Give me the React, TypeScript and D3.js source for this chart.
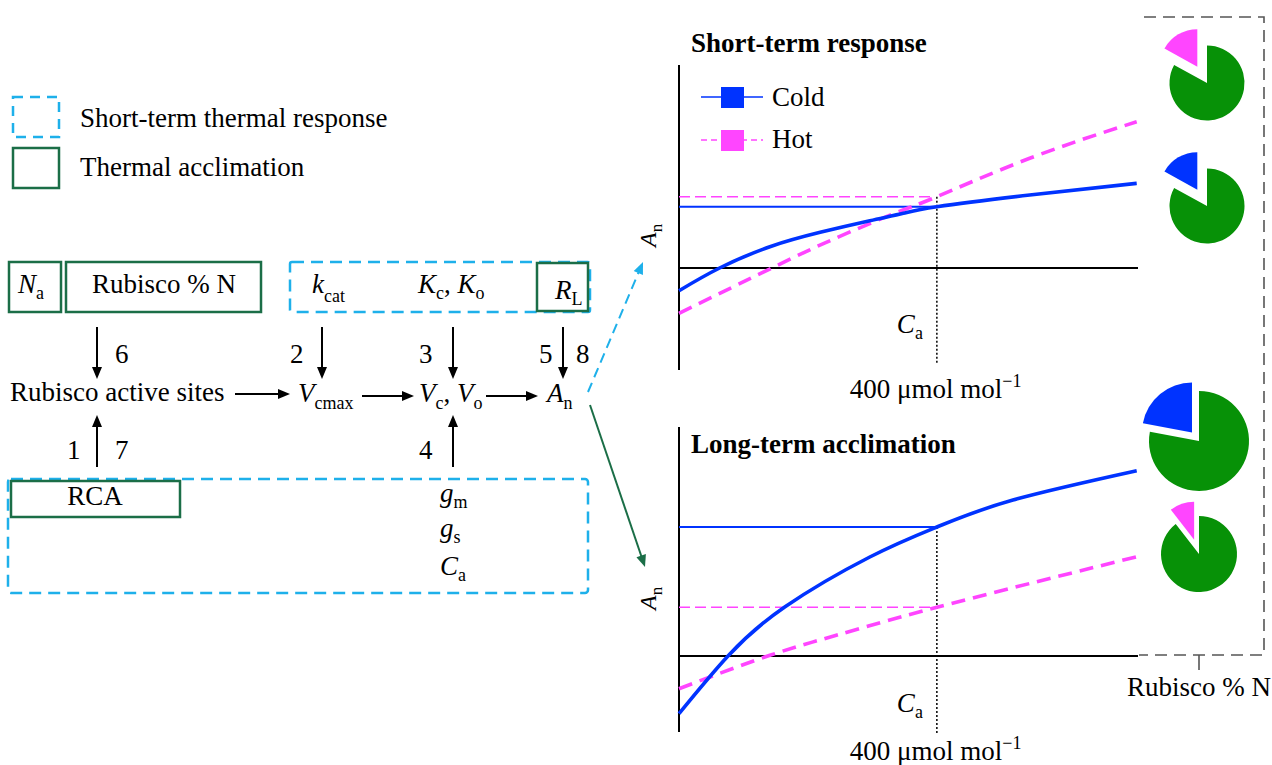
import React from "react";
import * as d3 from "d3";

// ---- Data ----
// Short-term response curves (Ca in µmol mol-1, An arbitrary units)
const shortColdCa = [0, 63, 141, 219, 296, 348, 400, 544, 710];
const shortColdAn = [-2.27, 0, 2.13, 3.57, 4.73, 5.47, 6.13, 7.3, 8.47];
const shortHotCa = [0, 144, 239, 337, 400, 544, 710];
const shortHotAn = [-4.53, 0, 2.87, 5.53, 7.13, 10.97, 14.63];
// Long-term acclimation curves
const longColdCa = [0, 76, 164, 296, 400, 518, 710];
const longColdAn = [-5.77, 0, 4.9, 9.9, 12.9, 15.6, 18.53];
const longHotCa = [0, 141, 244, 400, 710];
const longHotAn = [-3.27, 0.07, 2.07, 4.87, 9.93];
// Reference Ca and the An values at it
const caRef = 400;
const shortRefAn = [6.13, 7.13]; // cold, hot
const longRefAn = [12.9, 4.87]; // cold, hot
// Pie charts: share of Rubisco in N
const pieNames = ["Short-term hot", "Short-term cold", "Long-term cold", "Long-term hot"];
const pieRubiscoShare = [0.17, 0.17, 0.22, 0.105];
const legendLabels = ["Cold", "Hot"];

const FONT = "'Liberation Serif','Times New Roman',Times,serif";
const FS = 27;
const BLUE = "#0033ff";
const MAGENTA = "#ff45ff";
const GREEN = "#079107";
const DKGREEN = "#1b6e47";
const LTBLUE = "#1eb0ea";

function zip(a: number[], b: number[]): [number, number][] {
  return a.map((v, i) => [v, b[i]]);
}

function Arrow({ x1, y1, x2, y2, color = "#000", dash, width = 2, head = 12, half = 5 }: any) {
  const dx = x2 - x1, dy = y2 - y1;
  const L = Math.hypot(dx, dy);
  const ux = dx / L, uy = dy / L;
  const bx = x2 - ux * head, by = y2 - uy * head;
  const px = -uy, py = ux;
  return (
    <g>
      <line x1={x1} y1={y1} x2={x2 - ux * (head - 2)} y2={y2 - uy * (head - 2)} stroke={color} strokeWidth={width} strokeDasharray={dash} />
      <path d={`M${x2},${y2}L${bx + px * half},${by + py * half}L${bx - px * half},${by - py * half}Z`} fill={color} />
    </g>
  );
}

function Sub({ x, y, main, sub, italic = true, anchor = "start", dy = 7, size = FS, subSize = 18 }: any) {
  return (
    <text x={x} y={y} fontSize={size} textAnchor={anchor}>
      <tspan fontStyle={italic ? "italic" : "normal"}>{main}</tspan>
      <tspan fontSize={subSize} dy={dy}>{sub}</tspan>
    </text>
  );
}

const xScale = d3.scaleLinear().domain([0, 712]).range([679, 1138]);

function Panel({ yScale, yMin, yMax, title, titleY, cold, hot, refAn, caY, unitY, anY, legend, dotBottom }: any) {
  const line = d3
    .line<[number, number]>()
    .x((d) => xScale(d[0]))
    .y((d) => yScale(d[1]))
    .curve(d3.curveNatural);
  const x0 = xScale(0);
  const xr = xScale(caRef);
  return (
    <g>
      <text x={691} y={titleY} fontSize={FS} fontWeight="bold">{title}</text>
      {/* axes */}
      <line x1={x0} y1={yScale(yMin)} x2={x0} y2={yScale(yMax)} stroke="#000" strokeWidth={2} />
      <line x1={x0} y1={yScale(0)} x2={xScale(712)} y2={yScale(0)} stroke="#000" strokeWidth={2} />
      {/* reference lines */}
      <line x1={x0} y1={yScale(refAn[0])} x2={xr} y2={yScale(refAn[0])} stroke={BLUE} strokeWidth={2} />
      <line x1={x0} y1={yScale(refAn[1])} x2={xr - 6} y2={yScale(refAn[1])} stroke={MAGENTA} strokeWidth={1.6} strokeDasharray="11 5" />
      <line x1={xr} y1={yScale(Math.max(refAn[0], refAn[1]))} x2={xr} y2={dotBottom} stroke="#000" strokeWidth={1.5} strokeDasharray="2 2" />
      {/* curves */}
      <path d={line(hot) || ""} fill="none" stroke={MAGENTA} strokeWidth={3.6} strokeDasharray="14 8" />
      <path d={line(cold) || ""} fill="none" stroke={BLUE} strokeWidth={3.6} />
      {/* labels */}
      <Sub x={xr - 40} y={caY} main="C" sub="a" dy={6} />
      <text x={xr - 87} y={unitY} fontSize={FS}>
        400 μmol mol<tspan fontSize={18} dy={-11}>−1</tspan>
      </text>
      <g transform={`translate(656,${anY}) rotate(-90)`}>
        <Sub x={0} y={0} main="A" sub="n" dy={6} size={24} subSize={17} />
      </g>
      {legend && (
        <g>
          <line x1={701} y1={97} x2={763} y2={97} stroke={BLUE} strokeWidth={1.6} />
          <rect x={721} y={87} width={23} height={21} fill={BLUE} />
          <text x={772} y={106} fontSize={FS}>{legendLabels[0]}</text>
          <line x1={701} y1={140} x2={763} y2={140} stroke={MAGENTA} strokeWidth={1.6} strokeDasharray="6 4" />
          <rect x={721} y={130} width={23} height={21} fill={MAGENTA} />
          <text x={772} y={148} fontSize={FS}>{legendLabels[1]}</text>
        </g>
      )}
    </g>
  );
}

const pieLayout = [
  { cx: 1207, cy: 83, r: 37.5, ex: 19, color: MAGENTA },
  { cx: 1207, cy: 206, r: 37.5, ex: 19, color: BLUE },
  { cx: 1199, cy: 441, r: 50, ex: 11, color: BLUE },
  { cx: 1199, cy: 554, r: 38, ex: 15, color: MAGENTA },
];

function Pie({ share, layout, name }: any) {
  const pie = d3.pie<number>().sort(null).value((d) => d);
  const arcs = pie([1 - share, share]);
  const arc = d3.arc<any>().innerRadius(0).outerRadius(layout.r);
  const sl = arcs[1];
  const mid = (sl.startAngle + sl.endAngle) / 2;
  const ox = Math.sin(mid) * layout.ex, oy = -Math.cos(mid) * layout.ex;
  return (
    <g transform={`translate(${layout.cx},${layout.cy})`}>
      <title>{name}</title>
      <path d={arc(arcs[0]) || ""} fill={GREEN} />
      <path d={arc(sl) || ""} fill={layout.color} transform={`translate(${ox},${oy})`} />
    </g>
  );
}

export default function App() {
  const yTop = d3.scaleLinear().domain([0, 20]).range([268, 68]);
  const yBot = d3.scaleLinear().domain([0, 20]).range([656, 456]);
  return (
    <svg width={1272} height={765} style={{ position: "absolute", left: 0, top: 0, background: "#fff" }} fontFamily={FONT}>
      <rect x={0} y={0} width={1272} height={765} fill="#fff" />
      {/* Legend */}
      <rect x={13} y={97} width={46} height={40} fill="none" stroke={LTBLUE} strokeWidth={2.5} strokeDasharray="10 7" />
      <text x={80} y={127} fontSize={FS}>Short-term thermal response</text>
      <rect x={13} y={148} width={46} height={40} fill="none" stroke={DKGREEN} strokeWidth={2.5} />
      <text x={80} y={176} fontSize={FS}>Thermal acclimation</text>

      {/* Flow diagram boxes */}
      <rect x={9} y={262} width={52} height={50} fill="none" stroke={DKGREEN} strokeWidth={2.5} />
      <rect x={66} y={262} width={195} height={50} fill="none" stroke={DKGREEN} strokeWidth={2.5} />
      <rect x={290} y={262} width={300} height={50} rx={2} fill="none" stroke={LTBLUE} strokeWidth={2.5} strokeDasharray="12 7" />
      <rect x={537} y={263} width={51} height={48} fill="none" stroke={DKGREEN} strokeWidth={2.5} />
      <rect x={8} y={479} width={580} height={114} rx={3} fill="none" stroke={LTBLUE} strokeWidth={2.5} strokeDasharray="12 7" />
      <rect x={11} y={481} width={169} height={36} fill="none" stroke={DKGREEN} strokeWidth={2.5} />

      {/* Flow texts */}
      <Sub x={18} y={293} main="N" sub="a" dy={6} />
      <text x={164} y={293} fontSize={FS} textAnchor="middle">Rubisco % N</text>
      <Sub x={312} y={293} main="k" sub="cat" dy={9} />
      <text x={418} y={293} fontSize={FS}>
        <tspan fontStyle="italic">K</tspan><tspan fontSize={18} dy={6}>c</tspan>
        <tspan dy={-6}>, </tspan>
        <tspan fontStyle="italic">K</tspan><tspan fontSize={18} dy={6}>o</tspan>
      </text>
      <Sub x={555} y={299} main="R" sub="L" dy={6} />

      <text x={115} y={363} fontSize={FS}>6</text>
      <text x={290} y={363} fontSize={FS}>2</text>
      <text x={419} y={363} fontSize={FS}>3</text>
      <text x={539} y={363} fontSize={FS}>5</text>
      <text x={576} y={363} fontSize={FS}>8</text>

      <text x={10} y={401} fontSize={FS}>Rubisco active sites</text>
      <Sub x={298} y={402} main="V" sub="cmax" dy={7} />
      <text x={419} y={402} fontSize={FS}>
        <tspan fontStyle="italic">V</tspan><tspan fontSize={18} dy={7}>c</tspan>
        <tspan dy={-7}>, </tspan>
        <tspan fontStyle="italic">V</tspan><tspan fontSize={18} dy={7}>o</tspan>
      </text>
      <Sub x={547} y={402} main="A" sub="n" dy={7} />

      <text x={67} y={459} fontSize={FS}>1</text>
      <text x={115} y={459} fontSize={FS}>7</text>
      <text x={419} y={459} fontSize={FS}>4</text>

      <text x={95} y={505} fontSize={FS} textAnchor="middle">RCA</text>
      <Sub x={440} y={502} main="g" sub="m" dy={6} />
      <Sub x={440} y={537} main="g" sub="s" dy={6} />
      <Sub x={440} y={575} main="C" sub="a" dy={6} />

      {/* Flow arrows */}
      <Arrow x1={97} y1={327} x2={97} y2={379} />
      <Arrow x1={322} y1={327} x2={322} y2={379} />
      <Arrow x1={453} y1={327} x2={453} y2={379} />
      <Arrow x1={563} y1={327} x2={563} y2={379} />
      <Arrow x1={97} y1={467} x2={97} y2={415} />
      <Arrow x1={453} y1={467} x2={453} y2={415} />
      <Arrow x1={235} y1={394} x2={290} y2={394} />
      <Arrow x1={362} y1={396} x2={414} y2={396} />
      <Arrow x1={486} y1={396} x2={538} y2={396} />
      <Arrow x1={588} y1={392} x2={643} y2={262} color={LTBLUE} dash="10 6" />
      <Arrow x1={590} y1={405} x2={645} y2={567} color={DKGREEN} />

      {/* Panels */}
      <Panel
        yScale={yTop}
        yMin={-10.2}
        yMax={20.3}
        title="Short-term response"
        titleY={52}
        cold={zip(shortColdCa, shortColdAn)}
        hot={zip(shortHotCa, shortHotAn)}
        refAn={shortRefAn}
        caY={333}
        unitY={398}
        anY={247}
        legend
        dotBottom={363}
      />
      <Panel
        yScale={yBot}
        yMin={-7.6}
        yMax={22.9}
        title="Long-term acclimation"
        titleY={453}
        cold={zip(longColdCa, longColdAn)}
        hot={zip(longHotCa, longHotAn)}
        refAn={longRefAn}
        caY={712}
        unitY={760}
        anY={610}
        legend={false}
        dotBottom={733}
      />

      {/* Pies and bracket */}
      {pieRubiscoShare.map((s, i) => (
        <Pie key={i} share={s} layout={pieLayout[i]} name={pieNames[i]} />
      ))}
      <path d="M1144,17 L1264,17 L1264,655 L1139,655" fill="none" stroke="#555" strokeWidth={1.6} strokeDasharray="12 7" />
      <line x1={1199} y1={655} x2={1199} y2={670} stroke="#555" strokeWidth={1.6} />
      <text x={1127} y={696} fontSize={FS}>Rubisco % N</text>
    </svg>
  );
}
